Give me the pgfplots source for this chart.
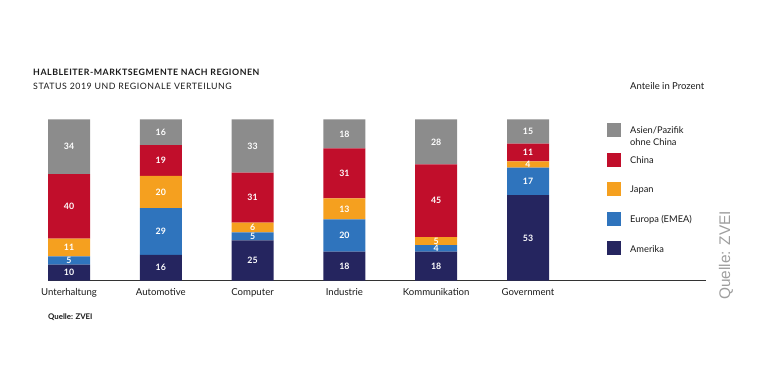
\documentclass[border=0pt]{standalone}
\usepackage{pgfplots}
\pgfplotsset{compat=1.18}
\usepackage{pgfplotstable}
\usepackage{fontspec}
\setmainfont{Lato}
\newfontfamily\arialfont{Liberation Sans}
\definecolor{cAsien}{HTML}{8C8C8C}
\definecolor{cChina}{HTML}{C10E2B}
\definecolor{cJapan}{HTML}{F5A01F}
\definecolor{cEuropa}{HTML}{2F74BD}
\definecolor{cAmerika}{HTML}{25255F}
\definecolor{cText}{HTML}{1A1A1A}

\pgfplotstableread{
x Amerika Europa Japan China Asien
0 10 5 11 40 34
1 16 29 20 19 16
2 25 5 6 31 33
3 18 20 13 31 18
4 18 4 5 45 28
5 53 17 4 11 15
}\shares

\pgfplotstableread{
x y v
0 5 10
0 12.5 5
0 20.5 11
0 46 40
0 83 34
1 8 16
1 30.5 29
1 55 20
1 74.5 19
1 92 16
2 12.5 25
2 27.5 5
2 33 6
2 51.5 31
2 83.5 33
3 9 18
3 28 20
3 44.5 13
3 66.5 31
3 91 18
4 9 18
4 20 4
4 24.5 5
4 49.5 45
4 86 28
5 26.5 53
5 61.5 17
5 72 4
5 79.5 11
5 92.5 15
}\midlabels

\pgfplotsset{
  basegeom/.style={
    scale only axis, width=658bp, height=161.4bp,
    at={(48bp,103.3bp)}, anchor=south west,
    xmin=-0.2288, xmax=6.939, ymin=0, ymax=100,
    clip=false,
  },
}

\begin{document}
\begin{tikzpicture}
\useasboundingbox (0,0) rectangle (768bp,384bp);

\begin{axis}[
  basegeom,
  ybar stacked, bar width=42bp,
  axis x line*=bottom, axis y line=none,
  axis line style={color=black!80, line width=0.9bp},
  xtick={0,1,2,3,4,5},
  xticklabels={Unterhaltung,Automotive,Computer,Industrie,Kommunikation,Government},
  major tick length=0pt,
  xticklabel style={anchor=base, yshift=-15.3bp, font=\fontsize{9.6bp}{12bp}\selectfont, text=cText},
]
\addplot[fill=cAmerika, draw=none] table[x=x, y=Amerika] {\shares};
\addplot[fill=cEuropa, draw=none] table[x=x, y=Europa] {\shares};
\addplot[fill=cJapan, draw=none] table[x=x, y=Japan] {\shares};
\addplot[fill=cChina, draw=none] table[x=x, y=China] {\shares};
\addplot[fill=cAsien, draw=none] table[x=x, y=Asien] {\shares};
\end{axis}

\begin{axis}[
  basegeom, hide axis,
  /pgf/number format/assume math mode=true,
]
\addplot[draw=none, mark=none, nodes near coords, point meta=explicit,
  every node near coord/.style={anchor=center, inner sep=0pt, text=white,
    font=\bfseries\fontsize{8.8bp}{10bp}\selectfont}]
  table[x=x, y=y, meta=v] {\midlabels};
\end{axis}

% titles
\node[anchor=west, inner sep=0pt, text=cText, font=\bfseries\fontsize{8.8bp}{10bp}\selectfont\addfontfeature{LetterSpace=6}] at (33bp,312bp) {HALBLEITER-MARKTSEGMENTE NACH REGIONEN};
\node[anchor=west, inner sep=0pt, text=cText, font=\fontsize{8.8bp}{10bp}\selectfont\addfontfeature{LetterSpace=6}] at (33bp,298bp) {STATUS 2019 UND REGIONALE VERTEILUNG};
\node[anchor=west, inner sep=0pt, text=cText, font=\fontsize{9.5bp}{11bp}\selectfont] at (630bp,298bp) {Anteile in Prozent};

% legend
\fill[cAsien] (607bp,247bp) rectangle (621bp,261bp);
\fill[cChina] (607bp,217bp) rectangle (621bp,231bp);
\fill[cJapan] (607bp,188bp) rectangle (621bp,202bp);
\fill[cEuropa] (607bp,158bp) rectangle (621bp,172bp);
\fill[cAmerika] (607bp,129bp) rectangle (621bp,143bp);
\begin{scope}[every node/.style={anchor=base west, inner sep=0pt, text=cText, font=\fontsize{9.3bp}{11bp}\selectfont}]
\node at (630bp,250bp) {Asien/Pazifik};
\node at (630bp,238.5bp) {ohne China};
\node at (630bp,220.5bp) {China};
\node at (630bp,191.5bp) {Japan};
\node at (630bp,161bp) {Europa (EMEA)};
\node at (630bp,131.5bp) {Amerika};
\end{scope}

% sources
\node[anchor=base west, inner sep=0pt, text=cText, font=\bfseries\fontsize{7.8bp}{9bp}\selectfont] at (48bp,64.5bp) {Quelle: ZVEI};
\node[anchor=base west, rotate=90, inner sep=0pt, text=black!38, font=\arialfont\fontsize{15.4bp}{18bp}\selectfont] at (730bp,84bp) {Quelle: ZVEI};
\end{tikzpicture}
\end{document}
